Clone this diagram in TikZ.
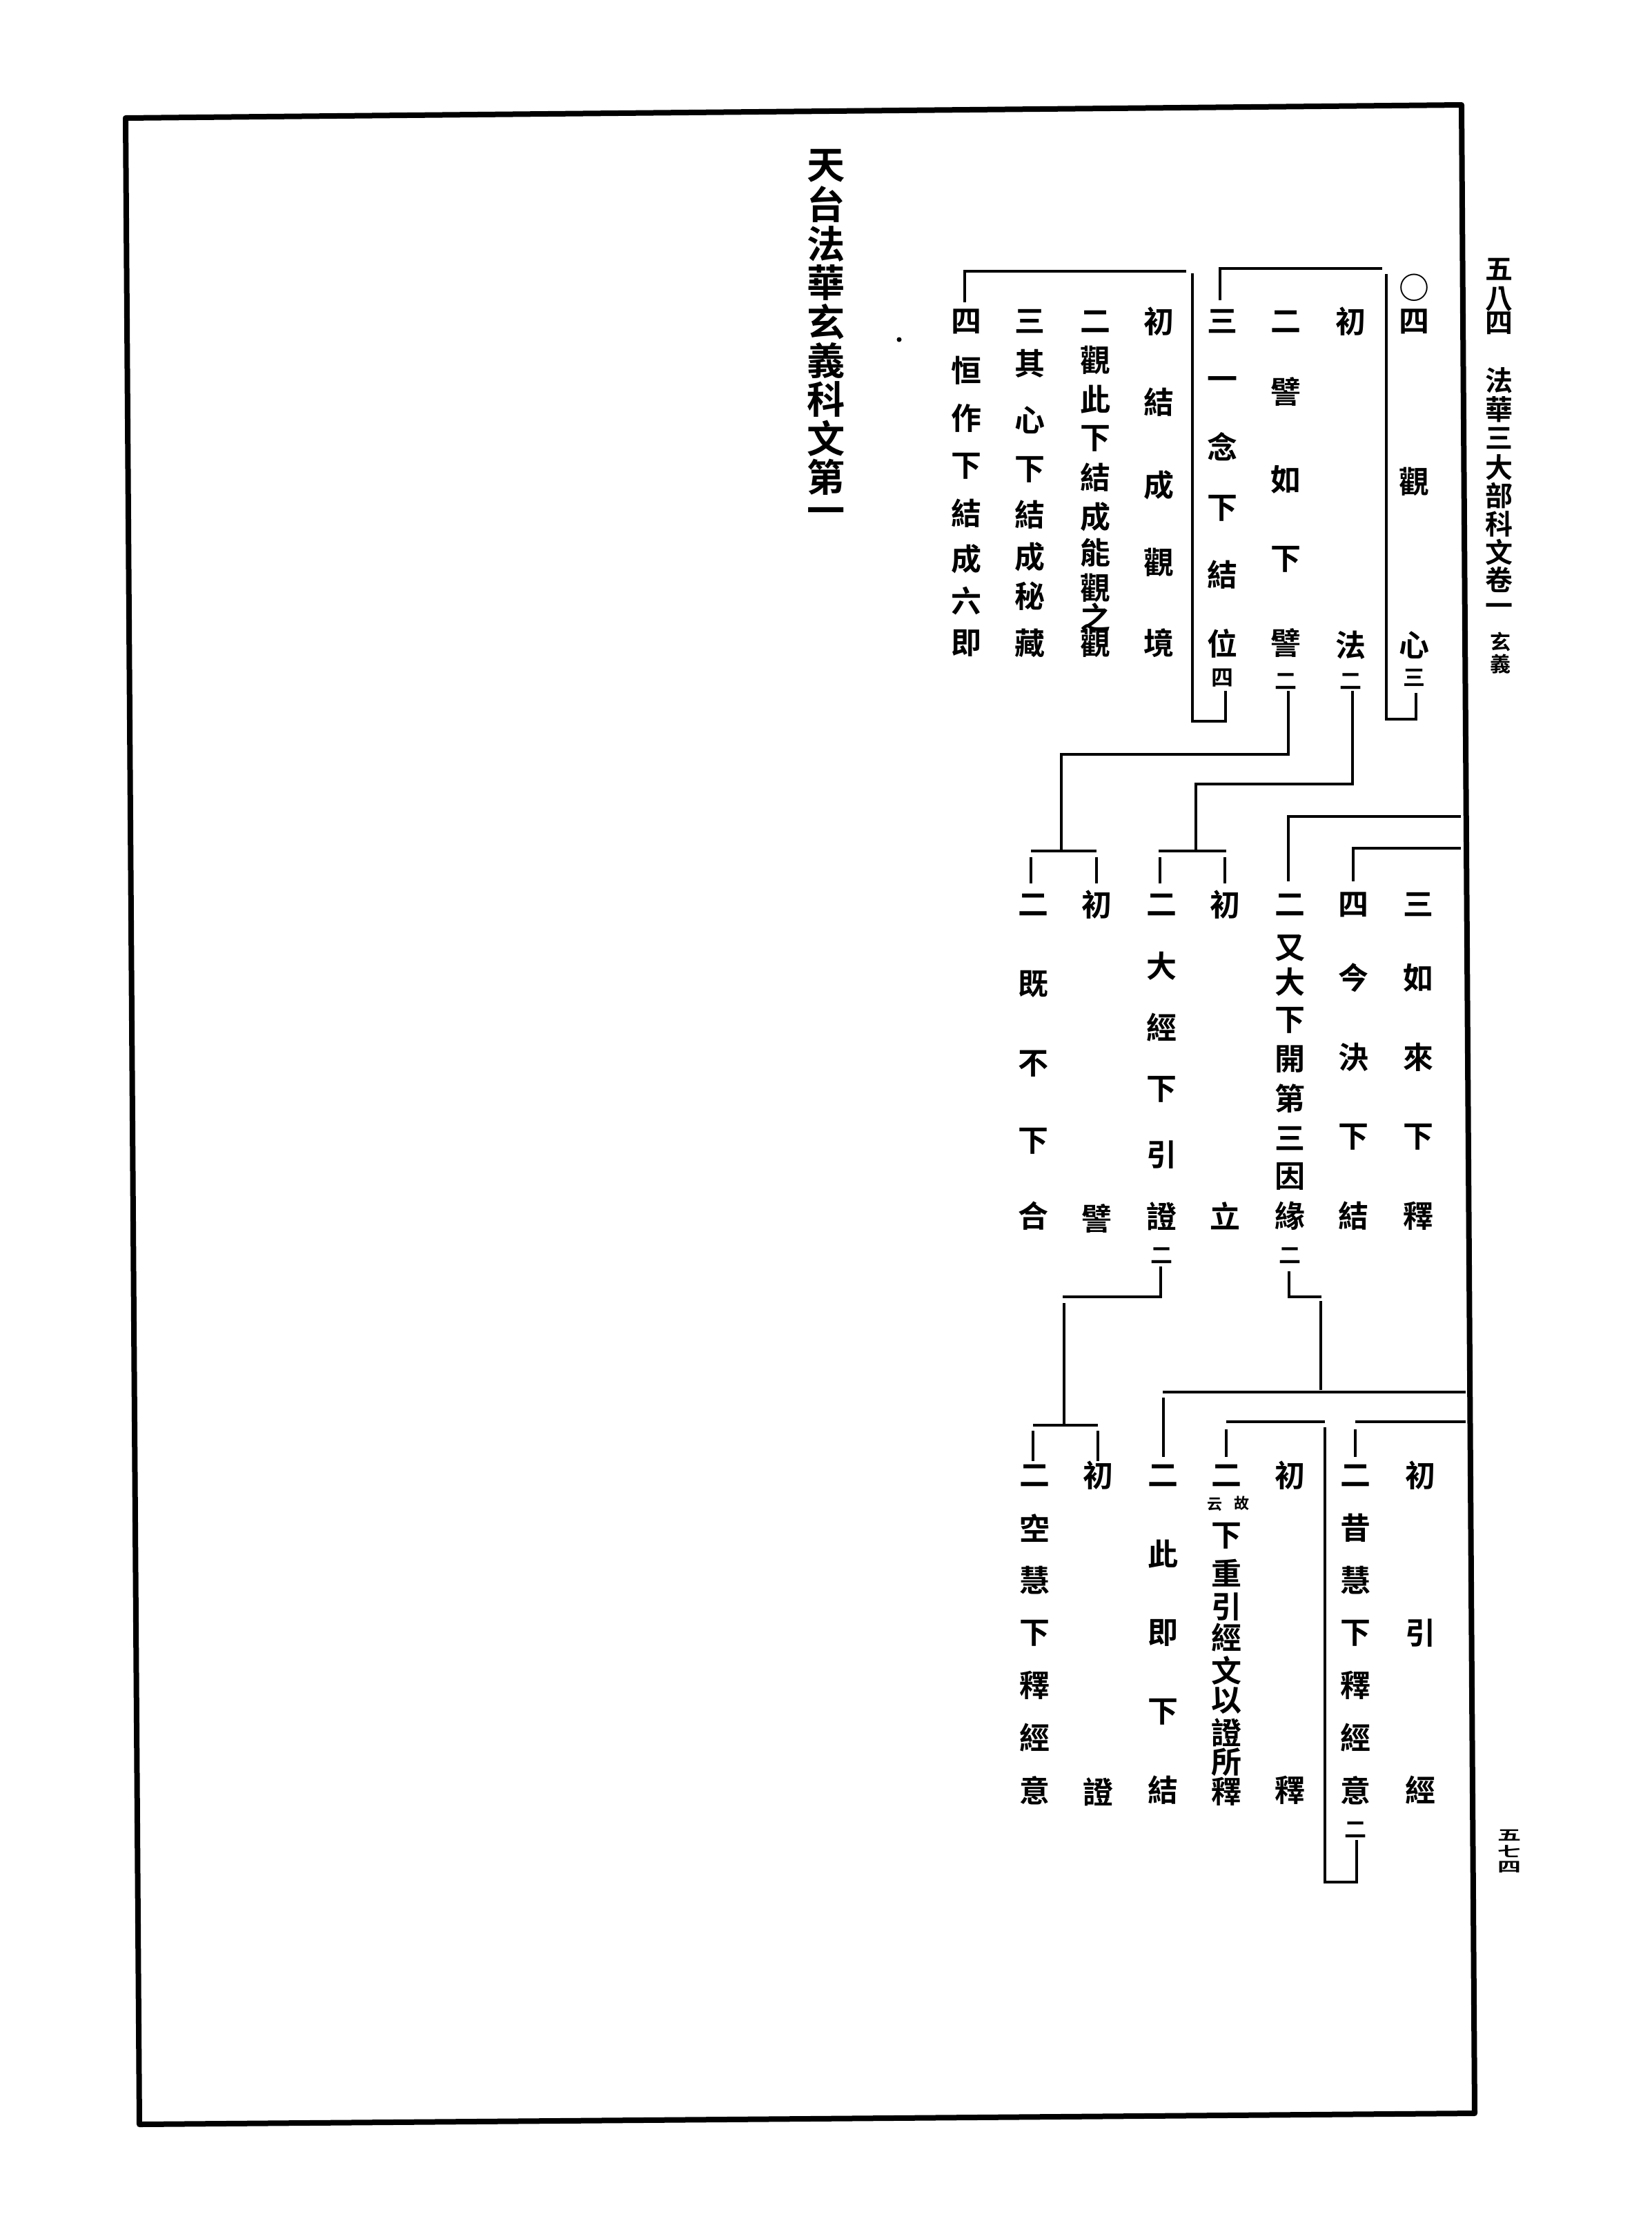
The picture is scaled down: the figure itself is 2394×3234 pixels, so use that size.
\documentclass[tikz,border=0pt]{standalone}
\usepackage{fontspec}
\usepackage{graphicx}
\newfontfamily\cjk{Noto Sans CJK TC}[BoldFont={Noto Sans CJK TC Bold}]
\tikzset{
  ch/.style={inner sep=0pt, font=\cjk\bfseries\fontsize{11}{11}\selectfont},
  sm/.style={inner sep=0pt, font=\cjk\bfseries\fontsize{8}{8}\selectfont},
  tny/.style={inner sep=0pt, font=\cjk\bfseries\fontsize{5.5}{5.5}\selectfont},
  hd/.style={inner sep=0pt, font=\cjk\bfseries\fontsize{10}{10}\selectfont},
  hdsm/.style={inner sep=0pt, font=\cjk\bfseries\fontsize{7.5}{7.5}\selectfont},
  pg/.style={inner sep=0pt, font=\cjk\bfseries\fontsize{8.5}{8.5}\selectfont},
  ttl/.style={inner sep=0pt, font=\cjk\bfseries\fontsize{13.8}{13.8}\selectfont},
  rl/.style={line width=1pt},
  frm/.style={line width=2pt, line join=round}
}
\newcommand\kcol[3]{\foreach \c/\yy [count=\i] in {#3}{\node[ch] (#1-\i) at (#2,\yy) {\c};}}
\newcommand\hcol[4]{\foreach \c/\yy [count=\i] in {#4}{\node[#3] (#1-\i) at (#2,\yy) {\c};}}
\begin{document}
\begin{tikzpicture}[x=0.25pt,y=-0.25pt]
\useasboundingbox (0,0) rectangle (2394,3234);
% frame
\coordinate (fTL) at (182,171);
\coordinate (fTR) at (2118,152);
\coordinate (fBR) at (2137,3062);
\coordinate (fBL) at (202,3078);
\draw[frm] (fTL) -- (fTR) -- (fBR) -- (fBL) -- cycle;
% header
\hcol{hA}{2172}{hd}{五/390,八/433,四/468}
\hcol{hB}{2172}{hd}{法/551,華/593,三/635,大/677,部/718,科/759,文/800,卷/840,一/883}
\hcol{hC}{2174}{hdsm}{玄/930,義/962}
% page number
\node[pg] (pn1) at (2187,2659) {\scalebox{1}[0.6]{五}};
\node[pg] (pn2) at (2187,2682) {\scalebox{1}[0.6]{七}};
\node[pg] (pn3) at (2187,2705) {\scalebox{1}[0.6]{四}};
% title
\hcol{tt}{1197}{ttl}{天/240,台/296,法/353,華/409,玄/466,義/522,科/578,文/635,第/691,一/748}
% dot
\fill (1303,492) circle (3.5);
% ---------- top section ----------
\node[ch] (A-0) at (2049,417) {○};
\kcol{A}{2049}{四/466,觀/698,心/935}
\node[sm] (A-t) at (2049,982) {三};
\kcol{B}{1957}{初/466,法/935}
\node[sm] (B-t) at (1957,987) {二};
\kcol{C}{1863}{二/466,譬/568,如/695,下/810,譬/932}
\node[sm] (C-t) at (1863,987) {二};
\kcol{D}{1771}{三/466,一/555,念/647,下/736,結/833,位/932}
\node[sm] (D-t) at (1771,982) {四};
\kcol{E}{1679}{初/466,結/583,成/703,觀/815,境/932}
\kcol{F}{1587}{二/466,觀/522,此/579,下/635,結/692,成/749,能/801,觀/852,之/894,觀/932}
\kcol{G}{1492}{三/466,其/527,心/609,下/680,結/746,成/807,秘/864,藏/932}
\kcol{H}{1400}{四/466,恒/537,作/606,下/675,結/744,成/810,六/871,即/932}
% block 1 bracket
\coordinate (b1a) at (1768,435); \coordinate (b1b) at (1768,389); \coordinate (b1c) at (2003,389);
\coordinate (b1d) at (2009,397); \coordinate (b1e) at (2009,1042); \coordinate (b1f) at (2052,1042); \coordinate (b1g) at (2052,1004);
\draw[rl] (b1a) -- (b1b) -- (b1c);
\draw[rl] (b1d) -- (b1e) -- (b1f) -- (b1g);
% block 2 bracket
\coordinate (b2a) at (1398,438); \coordinate (b2b) at (1398,393); \coordinate (b2c) at (1719,393);
\coordinate (b2d) at (1728,396); \coordinate (b2e) at (1728,1045); \coordinate (b2f) at (1776,1045); \coordinate (b2g) at (1776,1001);
\draw[rl] (b2a) -- (b2b) -- (b2c);
\draw[rl] (b2d) -- (b2e) -- (b2f) -- (b2g);
% ---------- middle section ----------
\kcol{I}{2055}{三/1311,如/1417,來/1532,下/1647,釋/1762}
\kcol{J}{1961}{四/1311,今/1417,決/1532,下/1647,結/1762}
\kcol{K}{1869}{二/1311,又/1374,大/1423,下/1478,開/1535,第/1592,三/1650,因/1704,緣/1762}
\node[sm] (K-t) at (1869,1819) {二};
\kcol{L}{1775}{初/1311,立/1762}
\kcol{M}{1683}{二/1311,大/1400,經/1489,下/1578,引/1673,證/1762}
\node[sm] (M-t) at (1683,1819) {二};
\kcol{N}{1589}{初/1311,譬/1766}
\kcol{O}{1497}{二/1311,既/1426,不/1541,下/1653,合/1762}
% from C (譬二) to N,O
\coordinate (m1a) at (1867,1001); \coordinate (m1b) at (1867,1093); \coordinate (m1c) at (1538,1093); \coordinate (m1d) at (1538,1233);
\coordinate (m1e) at (1494,1233); \coordinate (m1f) at (1589,1233);
\coordinate (m1g) at (1494,1242); \coordinate (m1h) at (1494,1280);
\coordinate (m1i) at (1589,1242); \coordinate (m1j) at (1589,1280);
\draw[rl] (m1a) -- (m1b) -- (m1c) -- (m1d);
\draw[rl] (m1e) -- (m1f);
\draw[rl] (m1g) -- (m1h); \draw[rl] (m1i) -- (m1j);
% from B (法二) to L,M
\coordinate (m2a) at (1960,1001); \coordinate (m2b) at (1960,1136); \coordinate (m2c) at (1733,1136); \coordinate (m2d) at (1733,1233);
\coordinate (m2e) at (1679,1233); \coordinate (m2f) at (1777,1233);
\coordinate (m2g) at (1681,1242); \coordinate (m2h) at (1681,1280);
\coordinate (m2i) at (1775,1242); \coordinate (m2j) at (1775,1280);
\draw[rl] (m2a) -- (m2b) -- (m2c) -- (m2d);
\draw[rl] (m2e) -- (m2f);
\draw[rl] (m2g) -- (m2h); \draw[rl] (m2i) -- (m2j);
% from frame to K and J
\coordinate (m3a) at (2117,1183); \coordinate (m3b) at (1867,1183); \coordinate (m3c) at (1867,1277);
\draw[rl] (m3a) -- (m3b) -- (m3c);
\coordinate (m4a) at (2117,1229); \coordinate (m4b) at (1961,1229); \coordinate (m4c) at (1961,1277);
\draw[rl] (m4a) -- (m4b) -- (m4c);
% ---------- bottom section ----------
\kcol{P}{2058}{初/2138,引/2366,經/2594}
\kcol{Q}{1964}{二/2138,昔/2214,慧/2290,下/2366,釋/2442,經/2518,意/2594}
\node[sm] (Q-t) at (1964,2651) {二};
\kcol{R}{1869}{初/2138,釋/2594}
\kcol{S}{1777}{二/2138,下/2225,重/2279,引/2328,經/2373,文/2420,以/2464,證/2510,所/2553,釋/2596}
\node[tny] (S-a) at (1799,2178) {故};
\node[tny] (S-b) at (1760,2180) {云};
\kcol{T}{1685}{二/2138,此/2252,即/2366,下/2480,結/2594}
\kcol{U}{1591}{初/2138,證/2596}
\kcol{V}{1499}{二/2138,空/2214,慧/2290,下/2366,釋/2442,經/2518,意/2594}
% from M (證二) to U,V
\coordinate (l1a) at (1682,1835); \coordinate (l1b) at (1682,1879); \coordinate (l1c) at (1540,1879);
\coordinate (l1d) at (1542,1888); \coordinate (l1e) at (1542,2063);
\coordinate (l1f) at (1497,2065); \coordinate (l1g) at (1591,2065);
\coordinate (l1h) at (1497,2073); \coordinate (l1i) at (1497,2117);
\coordinate (l1j) at (1591,2073); \coordinate (l1k) at (1591,2117);
\draw[rl] (l1a) -- (l1b) -- (l1c);
\draw[rl] (l1d) -- (l1e);
\draw[rl] (l1f) -- (l1g);
\draw[rl] (l1h) -- (l1i); \draw[rl] (l1j) -- (l1k);
% from K (緣二) to P..T
\coordinate (l2a) at (1868,1842); \coordinate (l2b) at (1868,1879); \coordinate (l2c) at (1915,1879);
\coordinate (l2d) at (1914,1885); \coordinate (l2e) at (1914,2014);
\coordinate (l2f) at (1685,2017); \coordinate (l2g) at (2124,2017);
\coordinate (l2h) at (1686,2025); \coordinate (l2i) at (1686,2111);
\draw[rl] (l2a) -- (l2b) -- (l2c);
\draw[rl] (l2d) -- (l2e);
\draw[rl] (l2f) -- (l2g);
\draw[rl] (l2h) -- (l2i);
% frame to Q
\coordinate (l3a) at (2124,2060); \coordinate (l3b) at (1964,2060);
\coordinate (l3c) at (1964,2071); \coordinate (l3d) at (1964,2111);
\draw[rl] (l3a) -- (l3b);
\draw[rl] (l3c) -- (l3d);
% from Q (意二) to R,S
\coordinate (l4a) at (1920,2060); \coordinate (l4b) at (1777,2060);
\coordinate (l4c) at (1777,2071); \coordinate (l4d) at (1777,2111);
\coordinate (l4e) at (1920,2068); \coordinate (l4f) at (1920,2727); \coordinate (l4g) at (1966,2727); \coordinate (l4h) at (1966,2666);
\draw[rl] (l4a) -- (l4b);
\draw[rl] (l4c) -- (l4d);
\draw[rl] (l4e) -- (l4f) -- (l4g) -- (l4h);
\end{tikzpicture}
\end{document}
